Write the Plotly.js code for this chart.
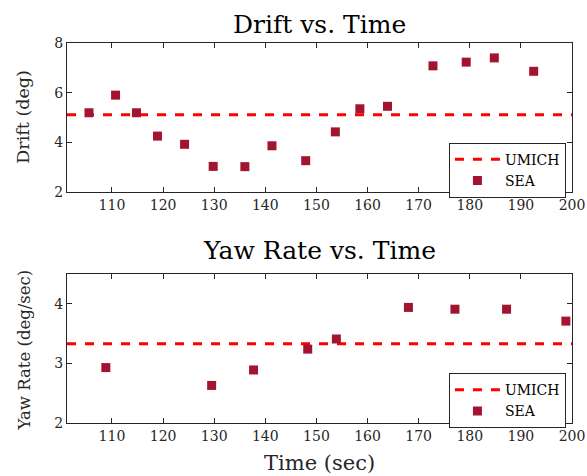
<!DOCTYPE html>
<html>
<head>
<meta charset="utf-8">
<script src="https://cdn.plot.ly/plotly-3.0.1.min.js"></script>
<style>html,body{margin:0;padding:0;background:#fff;}#chart{width:587px;height:476px;}</style>
</head>
<body>
<div id="chart"></div>
<script>
// Drift vs. Time (top)
const driftTime = [105.5, 110.7, 114.8, 118.9, 124.2, 129.8, 136.0, 141.3, 147.9, 153.7, 158.5, 163.9, 172.8, 179.3, 184.8, 192.5];
const driftSEA  = [5.19, 5.90, 5.19, 4.25, 3.92, 3.03, 3.02, 3.86, 3.26, 4.42, 5.35, 5.45, 7.08, 7.23, 7.40, 6.86];
const driftUMICH = 5.11;

// Yaw Rate vs. Time (bottom)
const yawTime = [108.8, 129.5, 137.7, 148.3, 153.9, 168.0, 177.1, 187.2, 198.8];
const yawSEA  = [2.93, 2.63, 2.89, 3.24, 3.41, 3.94, 3.91, 3.91, 3.71];
const yawUMICH = 3.33;

const timeTicks = [110, 120, 130, 140, 150, 160, 170, 180, 190, 200];
const driftTicks = [2, 4, 6, 8];
const yawTicks = [2, 3, 4];
const xRange = [101.2, 200];

const FONT = 'DejaVu Serif';
const AX = '#262626';
const SEA_COLOR = '#A2142F';

const traces = [
  {x: xRange, y: xRange.map(() => driftUMICH), mode: 'lines', name: 'UMICH',
   line: {color: '#FF0000', width: 3, dash: 'dash'}, xaxis: 'x', yaxis: 'y', legend: 'legend'},
  {x: driftTime, y: driftSEA, mode: 'markers', name: 'SEA',
   marker: {symbol: 'square', size: 9, color: SEA_COLOR}, xaxis: 'x', yaxis: 'y', legend: 'legend'},
  {x: xRange, y: xRange.map(() => yawUMICH), mode: 'lines', name: 'UMICH',
   line: {color: '#FF0000', width: 3, dash: 'dash'}, xaxis: 'x2', yaxis: 'y2', legend: 'legend2'},
  {x: yawTime, y: yawSEA, mode: 'markers', name: 'SEA',
   marker: {symbol: 'square', size: 9, color: SEA_COLOR}, xaxis: 'x2', yaxis: 'y2', legend: 'legend2'}
];

const axCommon = {
  showline: true, linecolor: AX, linewidth: 1, mirror: 'ticks',
  ticks: 'inside', ticklen: 5, tickcolor: AX, tickwidth: 1,
  showgrid: false, zeroline: false,
  tickfont: {family: FONT, size: 14, color: AX}
};

const legendCommon = {
  xref: 'paper', yref: 'paper', xanchor: 'right', yanchor: 'top',
  bgcolor: '#ffffff', bordercolor: AX, borderwidth: 1,
  font: {family: FONT, size: 14, color: '#000'},
  tracegroupgap: 0, itemwidth: 45
};

const layout = {
  width: 587, height: 476,
  margin: {l: 67, r: 15, t: 43, b: 53},
  paper_bgcolor: '#fff', plot_bgcolor: '#fff',
  showlegend: true,
  xaxis: Object.assign({}, axCommon, {domain: [0, 1], range: xRange, tickvals: timeTicks, anchor: 'y'}),
  yaxis: Object.assign({}, axCommon, {domain: [0.608, 1], range: [2, 8], tickvals: driftTicks, anchor: 'x'}),
  xaxis2: Object.assign({}, axCommon, {domain: [0, 1], range: xRange, tickvals: timeTicks, anchor: 'y2'}),
  yaxis2: Object.assign({}, axCommon, {domain: [0, 0.392], range: [2, 4.5], tickvals: yawTicks, anchor: 'x2'}),
  legend: Object.assign({}, legendCommon, {x: 0.988, y: 0.7376}),
  legend2: Object.assign({}, legendCommon, {x: 0.988, y: 0.131}),
  annotations: [
    {text: 'Drift vs. Time', xref: 'paper', yref: 'paper', x: 0.5, y: 1.048, xanchor: 'center', yanchor: 'middle',
     showarrow: false, font: {family: FONT, size: 25, color: '#000'}},
    {text: 'Yaw Rate vs. Time', xref: 'paper', yref: 'paper', x: 0.5, y: 0.453, xanchor: 'center', yanchor: 'middle',
     showarrow: false, font: {family: FONT, size: 25, color: '#000'}},
    {text: 'Time (sec)', xref: 'paper', yref: 'paper', x: 0.5, y: -0.105, xanchor: 'center', yanchor: 'middle',
     showarrow: false, font: {family: FONT, size: 21, color: AX}},
    {text: 'Drift (deg)', xref: 'paper', yref: 'paper', x: -0.086, y: 0.805, xanchor: 'center', yanchor: 'middle',
     textangle: -90, showarrow: false, font: {family: FONT, size: 17.5, color: AX}},
    {text: 'Yaw Rate (deg/sec)', xref: 'paper', yref: 'paper', x: -0.086, y: 0.192, xanchor: 'center', yanchor: 'middle',
     textangle: -90, showarrow: false, font: {family: FONT, size: 16.5, color: AX}}
  ]
};

Plotly.newPlot('chart', traces, layout, {staticPlot: true, displayModeBar: false});
</script>
</body>
</html>
